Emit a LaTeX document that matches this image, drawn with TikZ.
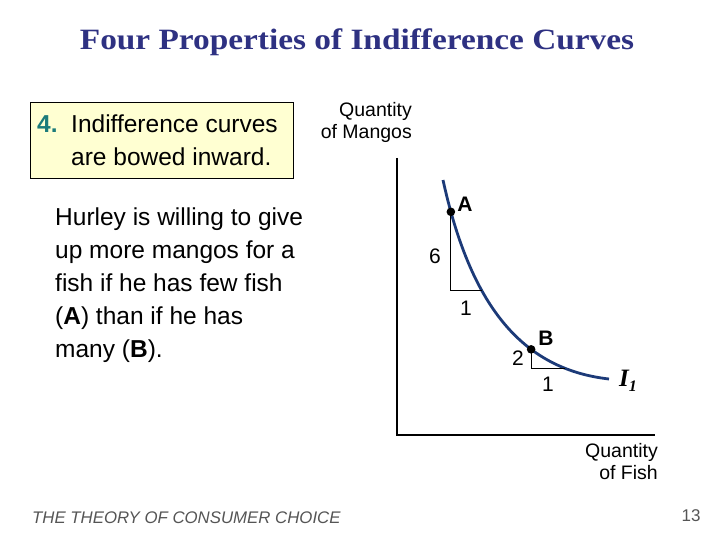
\documentclass[tikz,border=0pt]{standalone}
\usepackage{fontspec}
\setmainfont{Liberation Sans}
\newfontfamily\titlefont{Liberation Serif}
\usetikzlibrary{positioning}
\definecolor{titleblue}{HTML}{2E3182}
\definecolor{notebox}{HTML}{FFFFD2}
\definecolor{numteal}{HTML}{1B7B7B}
\definecolor{curveblue}{HTML}{1C3A78}
\definecolor{footgray}{HTML}{555555}

\begin{document}
\begin{tikzpicture}[x=1pt,y=-1pt,
    txt/.style={inner sep=0pt,font=\fontsize{24.5}{33}\selectfont},
    axlbl/.style={inner sep=0pt,align=right,font=\fontsize{19.5}{22.5}\selectfont},
    ptlbl/.style={inner sep=0pt,font=\fontsize{21}{24}\selectfont},
    curve/.style={curveblue,line width=2.8pt}]
  \useasboundingbox (0,0) rectangle (720,540);
  % title
  \node[inner sep=0pt,titleblue] (title) at (357,42)
    {\scalebox{1.13}[1]{\titlefont\bfseries\fontsize{29.5}{32}\selectfont Four Properties of Indifference Curves}};
  % yellow note
  \node[draw,fill=notebox,line width=.8pt,minimum width=263,minimum height=76,inner sep=0pt] (note) at (161.5,140) {};
  \node[txt,anchor=north west,align=left] (notetxt) at (37,115)
    {\makebox[34pt][l]{\textcolor{numteal}{\textbf{4.}}}Indifference curves\\\hspace*{34pt}are bowed inward.};
  \node[txt,anchor=north west,align=left] (story) at (55,208)
    {Hurley is willing to give\\up more mangos for a\\fish if he has few fish\\(\textbf{A}) than if he has\\many (\textbf{B}).};
  % axes
  \coordinate (ytop) at (397,158);
  \coordinate (orig) at (397,435);
  \coordinate (xend) at (655,435);
  \draw[line width=1.1pt] (ytop) -- (orig) -- (xend);
  \node[axlbl,anchor=north east] (ylab) at (412,102) {Quantity\\of Mangos};
  \node[axlbl,anchor=north east] (xlab) at (658,443) {Quantity\\of Fish};
  % indifference curve I1
  \coordinate (c0) at (443,180);
  \coordinate (c3) at (609,379);
  \draw[curve] (c0) .. controls (470,303) and (520,369) .. (c3)
    coordinate[pos=.09] (A) coordinate[pos=.36] (a1)
    coordinate[pos=.66] (B) coordinate[pos=.82] (b1);
  \draw[line width=.8pt] (A) |- (a1);
  \draw[line width=.8pt] (B) |- (b1);
  \fill (A) circle (4.3pt);
  \fill (B) circle (4.3pt);
  \node[ptlbl] (Alab) at (465,204) {\textbf{A}};
  \node[ptlbl] (Blab) at (546,338) {\textbf{B}};
  \node[ptlbl] (six) at (435,256) {6};
  \node[ptlbl] (runA) at (466,308) {1};
  \node[ptlbl] (two) at (518,358) {2};
  \node[ptlbl] (runB) at (548,384) {1};
  \node[inner sep=0pt] (Ione) at (628,381)
    {\titlefont\bfseries\itshape\fontsize{25}{28}\selectfont I\raisebox{-5pt}{\fontsize{16}{18}\selectfont 1}};
  % footer
  \node[inner sep=0pt,anchor=west,footgray,font=\fontsize{16.8}{18}\selectfont\itshape] (foot) at (32,518)
    {THE THEORY OF CONSUMER CHOICE};
  \node[inner sep=0pt,footgray,font=\fontsize{17}{18}\selectfont] (page) at (691,516) {13};
\end{tikzpicture}
\end{document}
